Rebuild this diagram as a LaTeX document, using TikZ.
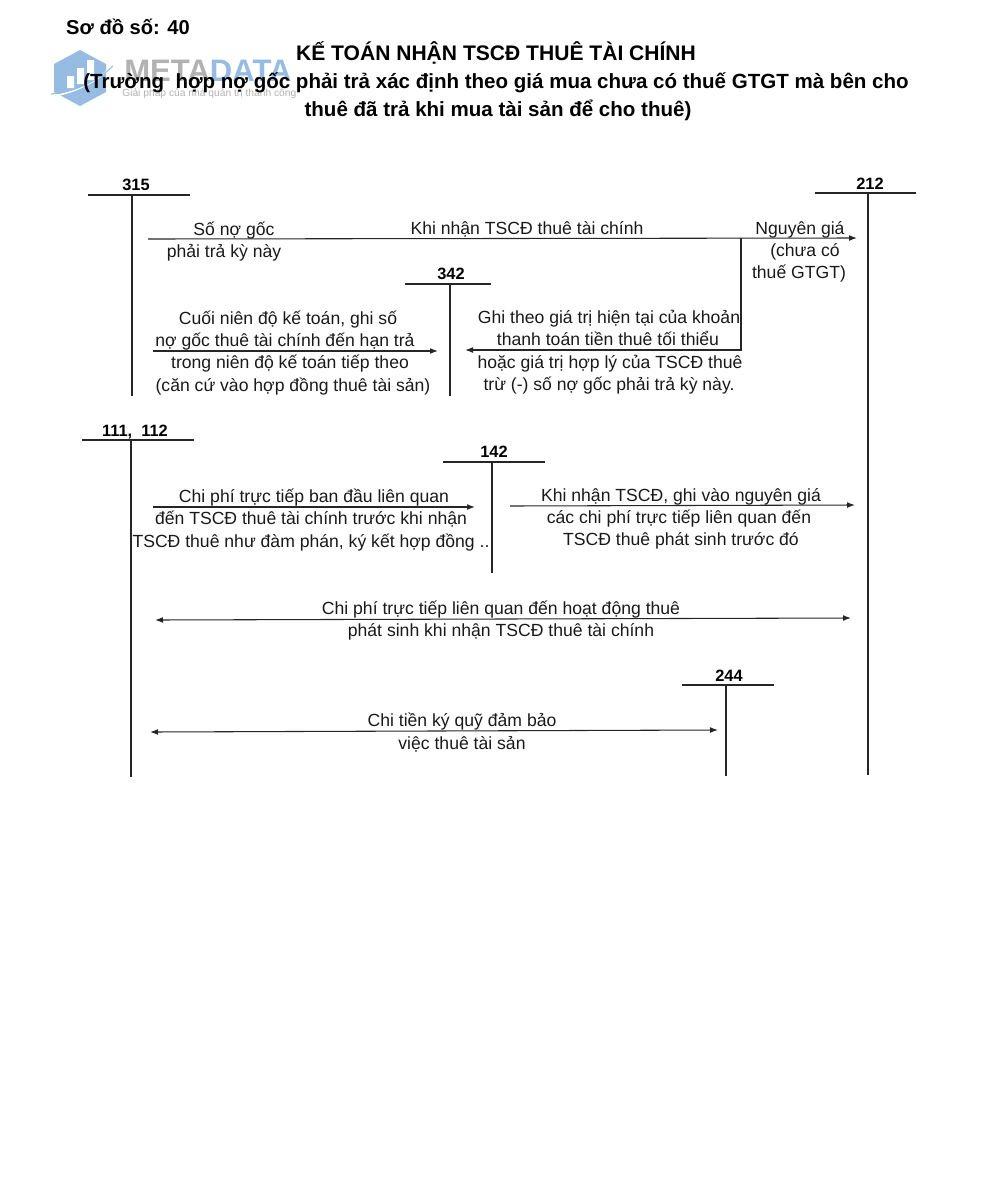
\documentclass[tikz,border=0pt]{standalone}
\usepackage{fontspec}
\setmainfont{Liberation Sans}
\definecolor{logoblue}{RGB}{150,188,228}
\definecolor{logogray}{RGB}{178,178,178}
\tikzset{accline/.style={line width=.8pt,black!85},
         flowline/.style={line width=.8pt,black!85,-{Latex[length=6pt,width=4.4pt]}},
         bothline/.style={line width=.8pt,black!85,{Latex[length=6pt,width=4.4pt]}-{Latex[length=6pt,width=4.4pt]}},
         linetext/.style={anchor=base,yshift=-4.9pt,inner sep=0pt,font=\fontsize{13.2pt}{15pt}\selectfont,black!90},
         acctext/.style={anchor=base,yshift=-4.5pt,inner sep=0pt,font=\fontsize{12.3pt}{14pt}\selectfont\bfseries},
         headtext/.style={anchor=base,yshift=-5.2pt,inner sep=0pt,font=\fontsize{15.4pt}{17pt}\selectfont\bfseries},
         titletext/.style={headtext,font=\fontsize{15.8pt}{17pt}\selectfont\bfseries}}
\usetikzlibrary{arrows.meta}
\begin{document}
\begin{tikzpicture}[x=.75pt,y=-.75pt,line cap=butt]
  \useasboundingbox (0,0) rectangle (996,1200);
  % watermark, under the heading
  \fill[logoblue] (80,50) -- (106,64) -- (106,92) -- (80,106) -- (54,92) -- (54,64) -- cycle;
  \fill[white] (67,76) rectangle (74,88) (77,68) rectangle (84,84) (87,60) rectangle (94,80);
  \draw[white,line width=1.2pt] (54,96) .. controls (76,92) and (96,82) .. (110,68);
  \draw[logoblue,line width=.8pt] (51,94) .. controls (74,92) and (96,82) .. (113,66);
  \node[anchor=base west,inner sep=0pt,font=\fontsize{23.3pt}{25pt}\selectfont\bfseries] (logo) at (124,81)
    {\textcolor{logogray}{META}\textcolor{logoblue}{DATA}};
  \node[anchor=base west,inner sep=0pt,font=\fontsize{7.7pt}{9pt}\selectfont,logogray] (slogan) at (122,96)
    {Giải pháp của nhà quản trị thành công};
  % heading
  \node[headtext,font=\fontsize{15.1pt}{17pt}\selectfont\bfseries] (sodo) at (128,28) {Sơ đồ số: 40};
  \node[titletext] (title) at (496,54) {KẾ TOÁN NHẬN TSCĐ THUÊ TÀI CHÍNH};
  \node[headtext] (subone) at (496,82) {(Trường\ \ hợp nợ gốc phải trả xác định theo giá mua chưa có thuế GTGT mà bên cho};
  \node[headtext] (subtwo) at (498,110) {thuê đã trả khi mua tài sản để cho thuê)};
  % accounts: bar with the stem hanging from it
  \foreach \acc/\txt/\lx/\ly/\xa/\xb/\xs/\yt/\yb in {
      a315/315/136/184/88/190/132/195/396,
      a212/212/870/183/815/916/868/193/775,
      a342/342/451/273/405/491/450/284/396,
      a111/{111,\ \ 112}/135/430/82/194/131/440/777,
      a142/142/494/451/443/545/492/462/573,
      a244/244/729/675/682/774/726/685/776} {
    \node[acctext] (\acc) at (\lx,\ly) {\txt};
    \coordinate (\acc l) at (\xa,\yt);
    \coordinate (\acc r) at (\xb,\yt);
    \coordinate (\acc t) at (\xs,\yt);
    \coordinate (\acc b) at (\xs,\yb);
    \draw[accline] (\acc l) -- (\acc r);
    \draw[accline] (\acc t) -- (\acc b);
  }
  % connectors
  \coordinate (nhanS) at (148,239);
  \coordinate (nhanE) at (857,238);
  \coordinate (nhanK) at (741,238);
  \coordinate (nhanG) at (741,350);
  \coordinate (ghiE) at (465,350);
  \draw[flowline] (nhanS) -- (nhanE);
  \draw[flowline] (nhanK) -- (nhanG) -- (ghiE);
  \coordinate (cuoiS) at (153,351);
  \coordinate (cuoiE) at (438,351);
  \draw[flowline] (cuoiS) -- (cuoiE);
  \coordinate (chiS) at (153,507);
  \coordinate (chiE) at (475,507);
  \draw[flowline] (chiS) -- (chiE);
  \coordinate (khiS) at (510,506);
  \coordinate (khiE) at (855,505);
  \draw[flowline] (khiS) -- (khiE);
  \coordinate (hdS) at (155,620);
  \coordinate (hdE) at (851,618);
  \draw[bothline] (hdS) -- (hdE);
  \coordinate (kqS) at (150,732);
  \coordinate (kqE) at (718,730);
  \draw[bothline] (kqS) -- (kqE);
  % 315 to 212
  \node[linetext] (sono) at (234,229) {Số nợ gốc};
  \node[linetext] (phaitra) at (224,251) {phải trả kỳ này};
  \node[linetext] (khinhan) at (527,228) {Khi nhận TSCĐ thuê tài chính};
  \node[linetext] (nguyen) at (800,228) {Nguyên giá};
  \node[linetext] (chuaco) at (805,250) {(chưa có};
  \node[linetext] (gtgt) at (799,272) {thuế GTGT)};
  % to 342
  \node[linetext] (cuoi) at (288,318) {Cuối niên độ kế toán, ghi số};
  \node[linetext] (nogoc) at (285,340) {nợ gốc thuê tài chính đến hạn trả};
  \node[linetext] (trong) at (290,362) {trong niên độ kế toán tiếp theo};
  \node[linetext] (cancu) at (293,385) {(căn cứ vào hợp đồng thuê tài sản)};
  \node[linetext] (ghi) at (609,317) {Ghi theo giá trị hiện tại của khoản};
  \node[linetext] (thanh) at (608,339) {thanh toán tiền thuê tối thiểu};
  \node[linetext] (hoac) at (610,362) {hoặc giá trị hợp lý của TSCĐ thuê};
  \node[linetext] (tru) at (609,384) {trừ (-) số nợ gốc phải trả kỳ này.};
  % through 142
  \node[linetext] (chiphi) at (314,496) {Chi phí trực tiếp ban đầu liên quan};
  \node[linetext] (den) at (311,518) {đến TSCĐ thuê tài chính trước khi nhận};
  \node[linetext] (damphan) at (311,541) {TSCĐ thuê như đàm phán, ký kết hợp đồng ..};
  \node[linetext] (khighi) at (681,495) {Khi nhận TSCĐ, ghi vào nguyên giá};
  \node[linetext] (cacchi) at (679,517) {các chi phí trực tiếp liên quan đến};
  \node[linetext] (phatsinh) at (681,539) {TSCĐ thuê phát sinh trước đó};
  % long arrows
  \node[linetext] (hoatdong) at (501,608) {Chi phí trực tiếp liên quan đến hoạt động thuê};
  \node[linetext] (khinhantwo) at (501,630) {phát sinh khi nhận TSCĐ thuê tài chính};
  \node[linetext] (kyquy) at (462,720) {Chi tiền ký quỹ đảm bảo};
  \node[linetext] (viecthue) at (462,743) {việc thuê tài sản};
\end{tikzpicture}
\end{document}
